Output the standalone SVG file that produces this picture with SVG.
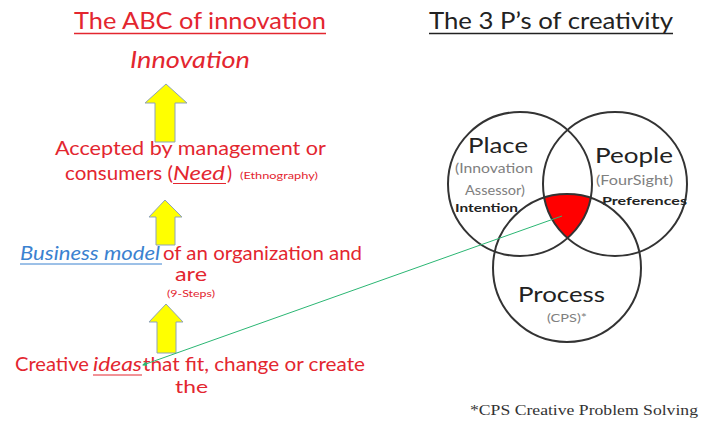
<svg xmlns="http://www.w3.org/2000/svg" width="704" height="426" viewBox="0 0 704 426">
<style>
.red{fill:#e3262f;font-family:Lato,"Liberation Sans",sans-serif}
.dark{fill:#222;font-family:Lato,"Liberation Sans",sans-serif}
.gray{fill:#808080;font-family:Lato,"Liberation Sans",sans-serif}
.blue{fill:#3b82d0;font-family:Lato,"Liberation Sans",sans-serif}
.arrow{fill:#ffff00;stroke:#8fa3b8;stroke-width:1}
.circ{fill:none;stroke:#333;stroke-width:2}
</style>
<defs>
<clipPath id="cPeople"><circle cx="615" cy="184" r="72"/></clipPath>
<clipPath id="cProcess"><circle cx="567" cy="268" r="74"/></clipPath>
<marker id="gArrow" viewBox="0 0 10 10" refX="8" refY="5" markerWidth="5" markerHeight="5" orient="auto-start-reverse">
<path d="M0,0 L10,5 L0,10 z" fill="#2bb673"/>
</marker>
</defs>

<g id="title-abc">
<text class="red" x="74" y="29" font-size="24" textLength="252" lengthAdjust="spacingAndGlyphs">The ABC of innovation</text>
<line x1="74" y1="33.5" x2="326" y2="33.5" stroke="#e3262f" stroke-width="1.5"/>
</g>

<g id="title-3p">
<text class="dark" x="429" y="29" font-size="24" textLength="244" lengthAdjust="spacingAndGlyphs">The 3 P’s of creativity</text>
<line x1="429" y1="33.5" x2="673" y2="33.5" stroke="#222" stroke-width="1.5"/>
</g>

<g id="innovation">
<text class="red" x="130" y="68" font-size="23" font-style="italic" textLength="120" lengthAdjust="spacingAndGlyphs">Innovation</text>
</g>

<g id="arrow1"><path class="arrow" d="M166,84 L187,103 L175,103 L175,142 L155,142 L155,103 L145,103 Z"/></g>
<g id="arrow2"><path class="arrow" d="M165,200 L182,217 L175,217 L175,245 L156,245 L156,217 L149,217 Z"/></g>
<g id="arrow3"><path class="arrow" d="M166,304 L183,322 L176,322 L176,353 L157,353 L157,322 L149,322 Z"/></g>

<g id="accepted">
<text class="red" x="55" y="155" font-size="19" textLength="271" lengthAdjust="spacingAndGlyphs">Accepted by management or</text>
<text class="red" x="65" y="180" font-size="19" textLength="108" lengthAdjust="spacingAndGlyphs">consumers (</text>
<text class="red" x="173" y="180" font-size="19" font-style="italic" textLength="52" lengthAdjust="spacingAndGlyphs">Need</text>
<line x1="173" y1="183.5" x2="226" y2="183.5" stroke="#e3262f" stroke-width="1"/>
<text class="red" x="227" y="180" font-size="19">)</text>
<text class="red" x="240" y="179" font-size="9" textLength="78" lengthAdjust="spacingAndGlyphs">(Ethnography)</text>
</g>

<g id="business">
<text class="blue" x="20" y="260" font-size="19" font-style="italic" textLength="140" lengthAdjust="spacingAndGlyphs">Business model</text>
<line x1="20" y1="264" x2="162" y2="264" stroke="#3b82d0" stroke-width="1"/>
<text class="red" x="163" y="260" font-size="19" textLength="199" lengthAdjust="spacingAndGlyphs">of an organization and</text>
<text class="red" x="175" y="281" font-size="19" textLength="32" lengthAdjust="spacingAndGlyphs">are</text>
<text class="red" x="167" y="297" font-size="9" textLength="48" lengthAdjust="spacingAndGlyphs">(9-Steps)</text>
</g>

<g id="creative">
<text class="red" x="15" y="371" font-size="19" textLength="74" lengthAdjust="spacingAndGlyphs">Creative</text>
<text class="red" x="93" y="371" font-size="19" font-style="italic" textLength="49" lengthAdjust="spacingAndGlyphs">ideas</text>
<line x1="93" y1="375" x2="142" y2="375" stroke="#e3262f" stroke-width="1"/>
<text class="red" x="143" y="371" font-size="19" textLength="222" lengthAdjust="spacingAndGlyphs">that fit, change or create</text>
<text class="red" x="175" y="393" font-size="18" textLength="33" lengthAdjust="spacingAndGlyphs">the</text>
</g>

<g id="venn-core">
<g clip-path="url(#cPeople)"><g clip-path="url(#cProcess)"><circle cx="520" cy="184" r="72" fill="#ff0000"/></g></g>
</g>

<g id="place">
<circle class="circ" cx="520" cy="184" r="72"/>
<text class="dark" x="468" y="153" font-size="22" textLength="60" lengthAdjust="spacingAndGlyphs">Place</text>
<text class="gray" x="455" y="173" font-size="13" textLength="78" lengthAdjust="spacingAndGlyphs">(Innovation</text>
<text class="gray" x="465" y="195" font-size="13" textLength="60" lengthAdjust="spacingAndGlyphs">Assessor)</text>
<text class="dark" x="455" y="212" font-size="12" font-weight="bold" textLength="63" lengthAdjust="spacingAndGlyphs">Intention</text>
</g>

<g id="people">
<circle class="circ" cx="615" cy="184" r="72"/>
<text class="dark" x="595" y="163" font-size="22" textLength="78" lengthAdjust="spacingAndGlyphs">People</text>
<text class="gray" x="596" y="185" font-size="13" textLength="77" lengthAdjust="spacingAndGlyphs">(FourSight)</text>
<text class="dark" x="602" y="205" font-size="12" font-weight="bold" textLength="85" lengthAdjust="spacingAndGlyphs">Preferences</text>
</g>

<g id="process">
<circle class="circ" cx="567" cy="268" r="74"/>
<text class="dark" x="518" y="302" font-size="22" textLength="87" lengthAdjust="spacingAndGlyphs">Process</text>
<text class="gray" x="547" y="322" font-size="12" textLength="40" lengthAdjust="spacingAndGlyphs">(CPS)*</text>
</g>

<g id="connectors">
<line x1="562" y1="216" x2="143" y2="365" stroke="#2bb673" stroke-width="1" marker-end="url(#gArrow)"/>
</g>

<g id="footnote">
<text x="470" y="415" font-family="'Liberation Serif',serif" font-size="15" fill="#333" textLength="228" lengthAdjust="spacingAndGlyphs">*CPS Creative Problem Solving</text>
</g>
</svg>
